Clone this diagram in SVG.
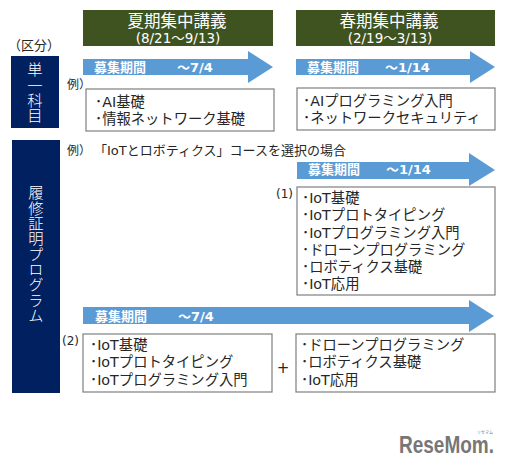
<svg xmlns="http://www.w3.org/2000/svg" width="509" height="467" viewBox="0 0 509 467">
<style>
text{font-family:"DejaVu Sans","Noto Sans CJK JP",sans-serif;fill:#262626}
.hd{fill:#3f5321}
.hw{fill:#fff;text-anchor:middle}
.nv{fill:#002060}
.vt{fill:#fff;font-family:"Noto Sans CJK JP",sans-serif;font-size:15.3px;writing-mode:vertical-rl;font-weight:300}
.ar{fill:#5b9bd5}
.bx{fill:#fff;stroke:#7f7f7f;stroke-width:1.2}
.at{fill:#fff;font-size:13px;font-weight:bold}
.it{font-size:14.3px;font-weight:normal}
</style>
<rect width="509" height="467" fill="#fff"/>
<g id="header-summer"><rect class="hd" x="83" y="10" width="190" height="36"/>
<text class="hw" x="177" y="27" font-size="16.5">夏期集中講義</text>
<text class="hw" x="178" y="43" font-size="13.5">(8/21～9/13)</text></g>
<g id="header-spring"><rect class="hd" x="296" y="10" width="199" height="36"/>
<text class="hw" x="389" y="27" font-size="16.5">春期集中講義</text>
<text class="hw" x="390" y="43" font-size="13.5">(2/19～3/13)</text></g>
<g id="label-kubun"><text x="8" y="50" font-size="13">（区分）</text></g>
<g id="cat-single"><rect class="nv" x="11" y="56" width="48" height="72"/>
<text class="vt" x="35" y="62">単一科目</text></g>
<g id="cat-cert"><rect class="nv" x="12" y="140" width="48" height="253"/>
<text class="vt" x="36" y="185">履修証明プログラム</text></g>
<g id="connectors">
<path class="ar" d="M83 59H248V51L273 67L248 83V75H83Z"/>
<path class="ar" d="M296 59H470V51L495 67L470 83V75H296Z"/>
<path class="ar" d="M297 162H469V153L495 170L469 186V179H297Z"/>
<path class="ar" d="M83 307H469V300L494 316L469 332V324H83Z"/>
</g>
<g id="period-labels">
<text class="at" x="94" y="72">募集期間</text><text class="at" x="177" y="72">～7/4</text>
<text class="at" x="307" y="72">募集期間</text><text class="at" x="385" y="72">～1/14</text>
<text class="at" x="308" y="174">募集期間</text><text class="at" x="386" y="174">～1/14</text>
<text class="at" x="95" y="321">募集期間</text><text class="at" x="178" y="321">～7/4</text>
</g>
<g id="ex-1"><text x="67" y="89" font-size="12">例）</text></g>
<g id="box-summer"><rect class="bx" x="86" y="89" width="188" height="42"/>
<text class="it" x="95" y="107">･AI基礎</text><text class="it" x="95" y="124">･情報ネットワーク基礎</text></g>
<g id="box-spring"><rect class="bx" x="297" y="88" width="198" height="42"/>
<text class="it" x="303" y="106">･AIプログラミング入門</text><text class="it" x="303" y="123">･ネットワークセキュリティ</text></g>
<g id="ex-2"><text x="67" y="155" font-size="12">例）</text><text x="94" y="155" font-size="13">「IoTとロボティクス」コースを選択の場合</text></g>
<g id="label-1"><text x="276" y="198" font-size="12">(1)</text></g>
<g id="box-1"><rect class="bx" x="297" y="187" width="198" height="108"/>
<text class="it" x="302" y="203">･IoT基礎</text>
<text class="it" x="302" y="220">･IoTプロトタイピング</text>
<text class="it" x="302" y="238">･IoTプログラミング入門</text>
<text class="it" x="302" y="255">･ドローンプログラミング</text>
<text class="it" x="302" y="272">･ロボティクス基礎</text>
<text class="it" x="302" y="289">･IoT応用</text></g>
<g id="label-2"><text x="62" y="345" font-size="12">(2)</text></g>
<g id="box-2"><rect class="bx" x="83" y="334" width="189" height="58"/>
<text class="it" x="90" y="350">･IoT基礎</text>
<text class="it" x="90" y="367">･IoTプロトタイピング</text>
<text class="it" x="90" y="385">･IoTプログラミング入門</text></g>
<g id="plus"><text x="283" y="373" font-size="15" text-anchor="middle">+</text></g>
<g id="box-3"><rect class="bx" x="296" y="334" width="199" height="58"/>
<text class="it" x="301" y="350">･ドローンプログラミング</text>
<text class="it" x="301" y="367">･ロボティクス基礎</text>
<text class="it" x="301" y="385">･IoT応用</text></g>
<g id="logo"><text transform="translate(399 453) scale(1 1.25)" font-size="19" font-weight="bold" style="fill:#777;font-family:'Liberation Sans',sans-serif">ReseMom.</text>
<text x="477" y="434" font-size="4" style="fill:#777">リセマム</text></g>
</svg>
